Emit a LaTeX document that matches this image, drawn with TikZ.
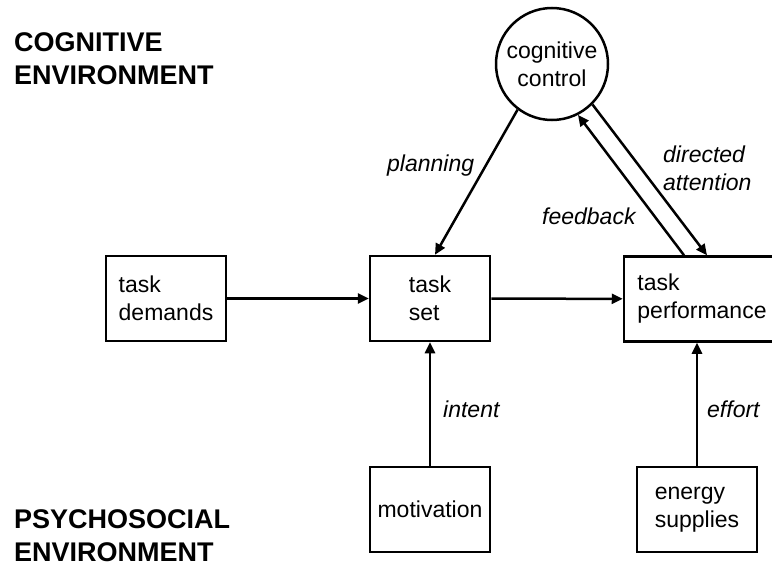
\documentclass[tikz,border=0pt]{standalone}
\usepackage{fontspec}
\setmainfont{Liberation Sans}
\usetikzlibrary{arrows.meta}
\begin{document}
\begin{tikzpicture}[x=1pt, y=-1pt,
  every node/.style={font=\fontsize{23}{28}\selectfont},
  box/.style={draw=black, line width=2.5pt, minimum width=120pt, minimum height=85pt, align=left, inner sep=0pt},
  lbl/.style={font=\fontsize{23}{28}\selectfont\itshape, inner sep=0pt, align=left, anchor=west},
  env/.style={font=\fontsize{27}{33}\selectfont\bfseries, inner sep=0pt, align=left, anchor=west},
  arr/.style={line width=2.5pt, -{Triangle[length=11pt, width=10pt]}}]
  % Fixed frame of the figure
  \useasboundingbox (0,0) rectangle (772,567);

  % Environments
  \node[env] (cogenv) at (14,59) {COGNITIVE\\ENVIRONMENT};
  \node[env] (psyenv) at (14,536) {PSYCHOSOCIAL\\ENVIRONMENT};

  % Control loop
  \node[circle, draw=black, line width=2.5pt, minimum size=112pt, align=center, inner sep=0pt] (ctrl) at (552,64) {cognitive\\control};

  % Middle row
  \node[box] (demands) at (166,298.5) {task\\demands};
  \node[box] (tset) at (430,298.5) {task\\set};
  \node[box, minimum width=156pt] (tperf) at (702,299) {task\\performance};

  % Bottom row
  \node[box] (motiv) at (430,509.5) {motivation};
  \node[box] (energy) at (697,509.5) {energy\\supplies};

  % Arrows
  \draw[arr] (demands) -- (tset);
  \draw[arr] (tset) -- (tperf);
  \draw[arr] (ctrl.233) -- ([xshift=5pt]tset.north);
  \draw[arr] (ctrl.315) -- ([xshift=5pt]tperf.north);
  \draw[arr] ([xshift=-18pt]tperf.north) -- (ctrl.297);
  \draw[arr] (motiv) -- (tset);
  \draw[arr] (energy) -- (energy |- tperf.south);

  % Arrow labels
  \node[lbl] (plan) at (387,166) {planning};
  \node[lbl] (feed) at (542,216) {feedback};
  \node[lbl] (direct) at (663,168) {directed\\attention};
  \node[lbl] (intent) at (443,409) {intent};
  \node[lbl] (effort) at (707,409) {effort};
\end{tikzpicture}
\end{document}
